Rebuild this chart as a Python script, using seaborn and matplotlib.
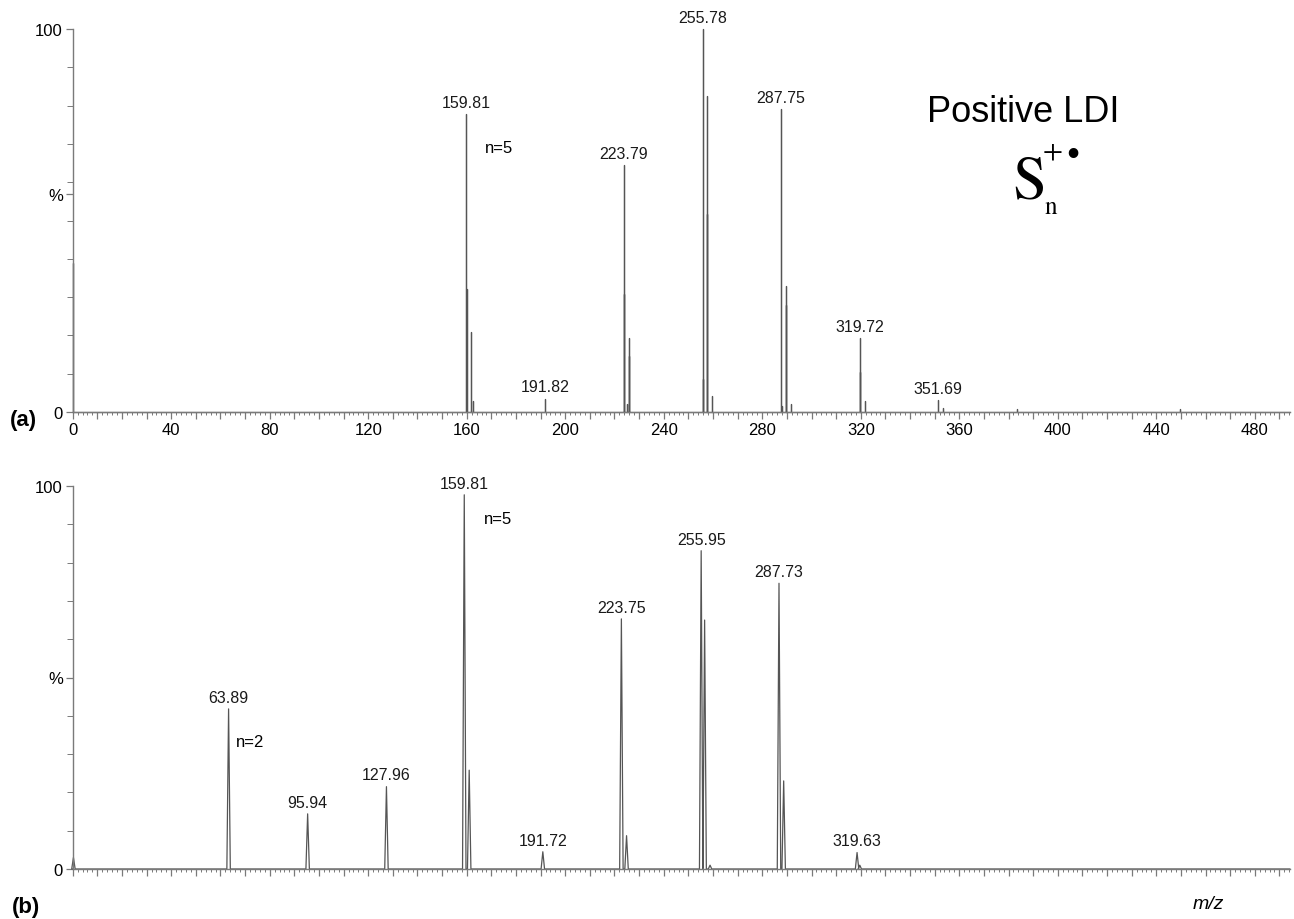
import os
import numpy as np
import pandas as pd
import matplotlib
matplotlib.use("Agg")
import matplotlib.pyplot as plt
import seaborn as sns
from matplotlib import font_manager as fm
from matplotlib.ticker import MultipleLocator, FuncFormatter

# =========================================================
# DATA
# =========================================================
# (a) positive LDI, stick spectrum: m/z and relative intensity (%)
top_mz = [0.3, 159.9, 160.0, 161.9, 162.4, 191.8, 223.8, 223.9, 224.9, 225.8,
          225.9, 255.8, 256.0, 257.6, 257.7, 259.7, 287.6, 287.9, 289.5, 289.6,
          291.5, 319.7, 319.75, 321.8, 351.4, 353.3, 383.5, 449.5]
top_int = [39.0, 77.8, 32.0, 21.0, 3.0, 3.5, 64.5, 30.8, 2.0, 19.3,
           14.6, 100.0, 8.6, 82.5, 51.7, 4.2, 79.0, 1.5, 33.0, 28.0,
           2.0, 19.3, 10.4, 2.9, 3.1, 1.0, 0.8, 0.8]
top_labels = ["159.81", "191.82", "223.79", "255.78", "287.75", "319.72", "351.69"]
top_label_mz = [159.9, 191.8, 223.8, 255.8, 287.6, 319.7, 351.4]

# (b) profile spectrum: peak centres and heights (%)
bot_mz = [0.3, 63.3, 95.4, 127.4, 159.0, 161.0, 190.9, 222.8, 224.9,
          255.2, 256.6, 258.8, 286.8, 288.7, 318.5, 319.6]
bot_int = [3.0, 41.8, 14.4, 21.5, 97.7, 25.8, 4.5, 65.3, 8.7,
           83.1, 65.0, 1.0, 74.6, 23.0, 4.3, 1.0]
bot_labels = ["63.89", "95.94", "127.96", "159.81", "191.72", "223.75",
              "255.95", "287.73", "319.63"]
bot_label_mz = [63.3, 95.4, 127.4, 159.0, 190.9, 222.8, 255.2, 286.8, 318.5]

XMAX = 494.3
STICK_W = 0.0
PEAK_W = 0.7


def build_trace(mz, inten, half_width):
    # baseline -> triangle/stick for every peak -> baseline
    order = np.argsort(mz)
    xs, ys = [0.0], [0.0]
    for i in order:
        xs += [mz[i] - half_width, mz[i], mz[i] + half_width]
        ys += [0.0, inten[i], 0.0]
    xs.append(XMAX)
    ys.append(0.0)
    return pd.DataFrame({"mz": xs, "intensity": ys})


def upright_serif():
    # STIX regular ships with matplotlib: Times-like and always upright
    path = os.path.join(matplotlib.get_data_path(), "fonts", "ttf", "STIXGeneral.ttf")
    if os.path.exists(path):
        return fm.FontProperties(fname=path)
    return fm.FontProperties(family="DejaVu Serif", style="normal")


# =========================================================
# STYLE
# =========================================================
sns.set_style("ticks")
plt.rcParams["font.family"] = ["Liberation Sans", "DejaVu Sans"]
plt.rcParams["text.color"] = "black"

fig = plt.figure(figsize=(12.94, 9.2), dpi=100)
W, H = 1294, 920
x0 = 72.7
ax_w = (1290 - x0) / W
ax_a = fig.add_axes([x0 / W, 1 - 413 / H, ax_w, 383 / H])
ax_b = fig.add_axes([x0 / W, 1 - 870 / H, ax_w, 383 / H])

line_col = "#555555"
spine_col = "#7a7a7a"

sns.lineplot(data=build_trace(top_mz, top_int, STICK_W), x="mz", y="intensity",
             ax=ax_a, estimator=None, sort=False, color=line_col, linewidth=0.9)
sns.lineplot(data=build_trace(bot_mz, bot_int, PEAK_W), x="mz", y="intensity",
             ax=ax_b, estimator=None, sort=False, color=line_col, linewidth=0.9)


def label_peaks(ax, labels, label_mz, mz, inten):
    for txt, lx in zip(labels, label_mz):
        i = int(np.argmin(np.abs(np.array(mz) - lx)))
        ax.annotate(txt, (mz[i], inten[i]), xytext=(0, 3), textcoords="offset points",
                    ha="center", va="bottom", fontsize=11.5, color="#1a1a1a",
                    annotation_clip=False)


label_peaks(ax_a, top_labels, top_label_mz, top_mz, top_int)
label_peaks(ax_b, bot_labels, bot_label_mz, bot_mz, bot_int)

for ax, pct in [(ax_a, 57), (ax_b, 50)]:
    ax.set_xlim(0, XMAX)
    ax.set_ylim(0, 100)
    ax.set_xlabel("")
    ax.set_ylabel("")
    sns.despine(ax=ax)
    for s in ["left", "bottom"]:
        ax.spines[s].set_color(spine_col)
        ax.spines[s].set_linewidth(1.0)
    ax.set_yticks([0, pct, 100], ["0", "%", "100"])
    ax.yaxis.set_minor_locator(MultipleLocator(10))
    ax.xaxis.set_major_locator(MultipleLocator(10))
    ax.xaxis.set_minor_locator(MultipleLocator(2))
    ax.tick_params(axis="both", which="major", length=5, width=0.9, color=spine_col,
                   labelsize=12, labelcolor="black", pad=2)
    ax.tick_params(axis="both", which="minor", length=2.5, width=0.7, color=spine_col)
    ax.tick_params(axis="y", which="minor", length=4)
    for l in ax.get_lines():
        l.set_clip_on(False)

ax_a.xaxis.set_major_formatter(FuncFormatter(lambda v, p: f"{v:.0f}" if round(v) % 40 == 0 else ""))
ax_b.xaxis.set_major_formatter(FuncFormatter(lambda v, p: ""))

# annotations
ax_a.text(167.4, 68, "n=5", fontsize=12)
ax_b.text(167.0, 91.4, "n=5", fontsize=12, va="center")
ax_b.text(66.4, 33.2, "n=2", fontsize=12, va="center")

fig.text(10 / W, 1 - 421 / H, "(a)", fontsize=16, fontweight="bold", va="center")
fig.text(12 / W, 1 - 908 / H, "(b)", fontsize=16, fontweight="bold", va="center")
fig.text(1208 / W, 1 - 905 / H, "m/z", fontsize=14, style="italic", ha="center", va="center")

fig.text(927 / W, 1 - 112 / H, "Positive LDI", fontsize=26, va="center")
serif = upright_serif()
fig.text(1012 / W, 1 - 184 / H, "S", fontproperties=serif, fontsize=44, va="center")
fig.text(1053 / W, 1 - 152 / H, "+", fontproperties=serif, fontsize=21, ha="center", va="center")
fig.text(1073 / W, 1 - 154 / H, "\u2022", fontproperties=serif, fontsize=18, ha="center", va="center")
fig.text(1051 / W, 1 - 208 / H, "n", fontproperties=serif, fontsize=18, ha="center", va="center")

fig.savefig("out.png", dpi=100, facecolor="white")
